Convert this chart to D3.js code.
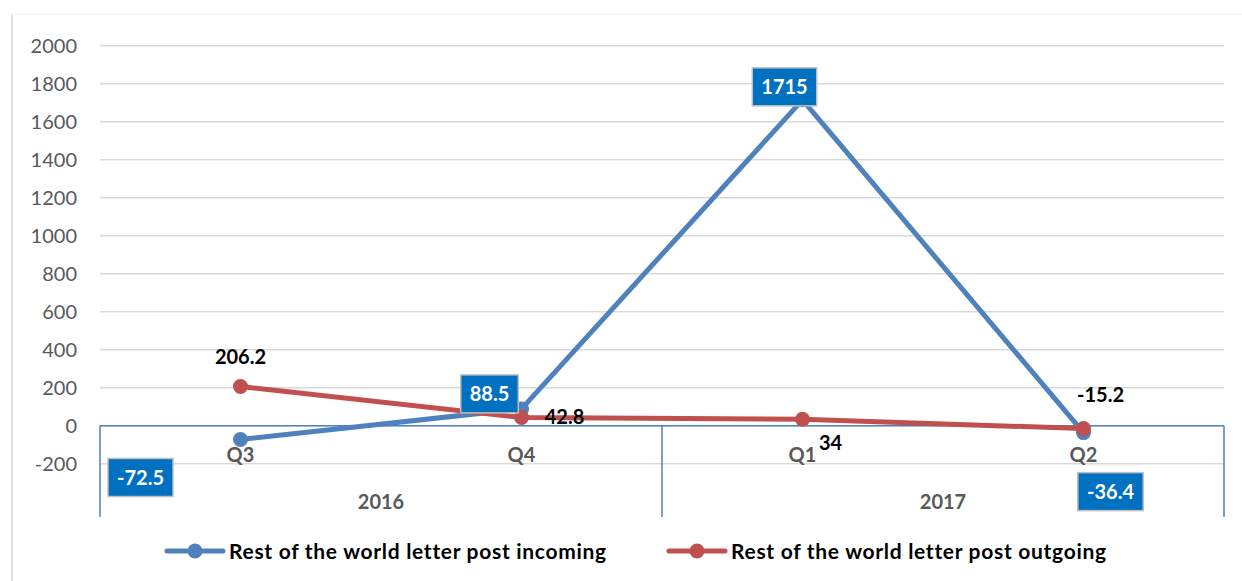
<!DOCTYPE html>
<html><head><meta charset="utf-8">
<script src="https://cdn.jsdelivr.net/npm/d3@7"></script>
<style>
html,body{margin:0;padding:0;background:#fff;}
svg{display:block;font-family:Lato,"Open Sans",sans-serif;}
</style></head>
<body><svg id="c" width="1242" height="581"></svg>
<script>
const quarters = ["Q3","Q4","Q1","Q2"];
const years = ["2016","2016","2017","2017"];
const yearGroups = ["2016","2017"];
const incoming = [-72.5, 88.5, 1715, -36.4];
const outgoing = [206.2, 42.8, 34, -15.2];
const yTicks = [-200,0,200,400,600,800,1000,1200,1400,1600,1800,2000];
const seriesNames = ["Rest of the world letter post incoming","Rest of the world letter post outgoing"];

// label layout offsets (dx, dy from point)
const incomingLabelOffsets = [[-100,38],[-32,-15],[-18,-13],[27,59]];
const outgoingLabelOffsets = [[0,-30],[43,-1],[28,24],[17,-34]];

const blue = "#4F81BD", red = "#C0504D", boxFill = "#0070C0";
const svg = d3.select("#c");
const L = 100, R = 1224, T = 45.7, B = 463.7, axisBottom = 517;

const x = d3.scaleBand().domain(d3.range(quarters.length)).range([L, R]);
const y = d3.scaleLinear().domain([-200, 2000]).range([B, T]);
const cx = i => x(i) + x.bandwidth()/2;

// outer frame lines
svg.append("line").attr("x1",12).attr("x2",12).attr("y1",14).attr("y2",581).attr("stroke","#d9d9d9").attr("stroke-width",1.5);
svg.append("line").attr("x1",12).attr("x2",1242).attr("y1",14).attr("y2",14).attr("stroke","#f2f2f2").attr("stroke-width",1);

// gridlines
svg.append("g").selectAll("line").data(yTicks).join("line")
  .attr("x1",L).attr("x2",R).attr("y1",d=>y(d)).attr("y2",d=>y(d))
  .attr("stroke","#d9d9d9").attr("stroke-width",1.5);

// y tick labels
svg.append("g").selectAll("text").data(yTicks).join("text")
  .attr("x",77).attr("y",d=>y(d)).attr("dy","0.36em").attr("text-anchor","end")
  .attr("font-size",20).attr("fill","#595959").text(d=>d);

// category axis
const ax = svg.append("g").attr("stroke",blue).attr("stroke-width",1.5);
ax.append("line").attr("x1",L).attr("x2",R).attr("y1",y(0)).attr("y2",y(0));
const seps = [L, (x(1)+x.bandwidth()+x(2))/2, R];
ax.selectAll("line.sep").data(seps).join("line").attr("class","sep")
  .attr("x1",d=>d).attr("x2",d=>d).attr("y1",y(0)).attr("y2",axisBottom);

svg.append("g").selectAll("text").data(quarters).join("text")
  .attr("x",(d,i)=>cx(i)).attr("y",455).attr("dy","0.36em").attr("text-anchor","middle")
  .attr("font-size",20).attr("font-weight","bold").attr("fill","#595959").text(d=>d);

svg.append("g").selectAll("text").data(yearGroups).join("text")
  .attr("x",g=>{const idx=d3.range(years.length).filter(i=>years[i]===g);return d3.mean(idx,cx);})
  .attr("y",502).attr("dy","0.36em").attr("text-anchor","middle")
  .attr("font-size",20).attr("font-weight","bold").attr("fill","#595959").text(d=>d);

// series
const line = d3.line().x((d,i)=>cx(i)).y(d=>y(d));
function drawSeries(vals,color){
  svg.append("path").datum(vals).attr("d",line).attr("fill","none")
    .attr("stroke",color).attr("stroke-width",5).attr("stroke-linejoin","round");
  svg.append("g").selectAll("circle").data(vals).join("circle")
    .attr("cx",(d,i)=>cx(i)).attr("cy",d=>y(d)).attr("r",7.5).attr("fill",color);
}
drawSeries(incoming, blue);
drawSeries(outgoing, red);

// outgoing labels
svg.append("g").selectAll("text").data(outgoing).join("text")
  .attr("x",(d,i)=>cx(i)+outgoingLabelOffsets[i][0]).attr("y",(d,i)=>y(d)+outgoingLabelOffsets[i][1])
  .attr("dy","0.36em").attr("text-anchor","middle").attr("font-size",20).attr("font-weight","bold")
  .attr("fill","#000").text(d=>d);

// incoming labels (boxes)
const ig = svg.append("g").selectAll("g").data(incoming).join("g")
  .attr("transform",(d,i)=>`translate(${cx(i)+incomingLabelOffsets[i][0]},${y(d)+incomingLabelOffsets[i][1]})`);
ig.append("text").attr("text-anchor","middle").attr("dy","0.36em").attr("font-size",20)
  .attr("font-weight","bold").attr("fill","#fff").text(d=>d)
  .each(function(){
    const bb=this.getBBox();
    d3.select(this.parentNode).insert("rect","text")
      .attr("x",-bb.width/2-9).attr("y",-19).attr("width",bb.width+18).attr("height",38)
      .attr("fill",boxFill).attr("stroke","#bfbfbf").attr("stroke-width",1.5);
  });

// legend
const legendItems = [{name:seriesNames[0],color:blue,x0:167},{name:seriesNames[1],color:red,x0:669}];
const lg = svg.append("g").selectAll("g").data(legendItems).join("g")
  .attr("transform",d=>`translate(${d.x0},551)`);
lg.append("line").attr("x1",0).attr("x2",56).attr("y1",0).attr("y2",0)
  .attr("stroke",d=>d.color).attr("stroke-width",5).attr("stroke-linecap","round");
lg.append("circle").attr("cx",28).attr("cy",0).attr("r",7.5).attr("fill",d=>d.color);
lg.append("text").attr("x",62).attr("dy","0.36em").attr("font-size",21).attr("font-weight","bold")
  .attr("letter-spacing",0.7).attr("fill","#000").text(d=>d.name);
</script></body></html>
